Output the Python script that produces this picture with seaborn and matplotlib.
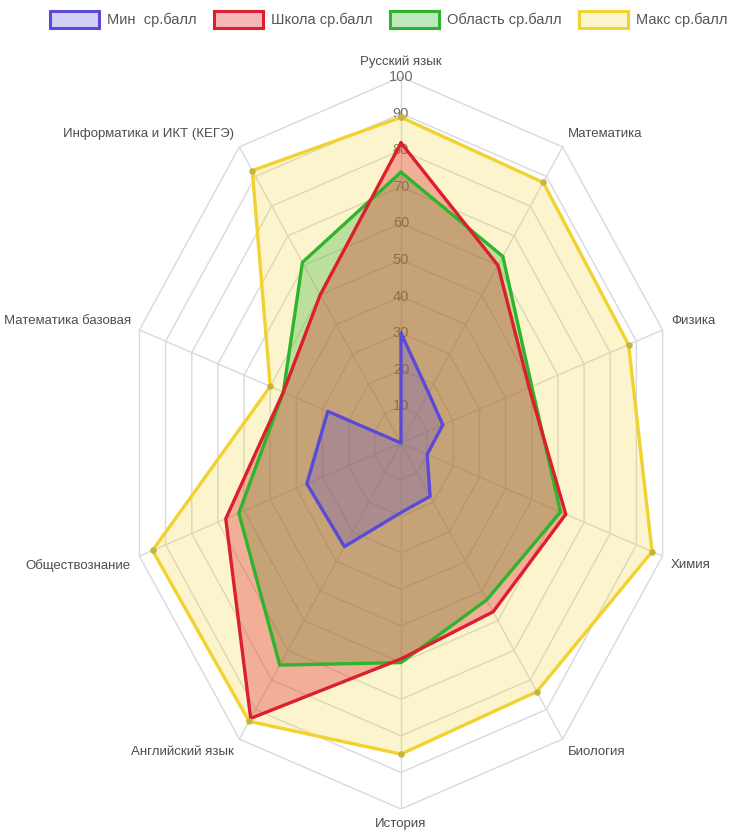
import numpy as np
import pandas as pd
import matplotlib
matplotlib.use("Agg")
import matplotlib.pyplot as plt
from matplotlib.patches import Patch
import seaborn as sns

# subjects clockwise from the top
subjects = ["Русский язык", "Математика", "Физика", "Химия", "Биология",
            "История", "Английский язык", "Обществознание",
            "Математика базовая", "Информатика и ИКТ (КЕГЭ)"]

min_avg = [30, 17, 16, 10, 18, 19, 35, 36, 28, 0]
school_avg = [82, 60, 49, 63, 57, 59, 93, 67, 45, 50]
region_avg = [74, 63, 50, 61, 53, 60, 75, 62, 45, 61]
max_avg = [89, 88, 87, 96, 84, 85, 94, 95, 50, 92]

series_names = ["Мин  ср.балл", "Школа ср.балл", "Область ср.балл", "Макс ср.балл"]
ticks = [10, 20, 30, 40, 50, 60, 70, 80, 90, 100]

line_colors = {"Мин  ср.балл": "#5a4bd6", "Школа ср.балл": "#dd1f2b",
               "Область ср.балл": "#2db52d", "Макс ср.балл": "#f2d22e"}
fill_alpha = {"Мин  ср.балл": 0.25, "Школа ср.балл": 0.32,
              "Область ср.балл": 0.3, "Макс ср.балл": 0.24}

sns.set_style("white")
plt.rcParams["font.family"] = ["Liberation Sans", "DejaVu Sans"]

n = len(subjects)
angles = np.arange(n) * 2 * np.pi / n

# long table, polygon closed by repeating the first point
rows = []
for name, vals in zip(series_names, [min_avg, school_avg, region_avg, max_avg]):
    for i in list(range(n)) + [0]:
        rows.append({"series": name, "subject": subjects[i], "value": vals[i],
                     "x": vals[i] * np.sin(angles[i]), "y": vals[i] * np.cos(angles[i])})
df = pd.DataFrame(rows)

fig = plt.figure(figsize=(7.43, 8.36), dpi=100)
ax = fig.add_axes([126 / 743, 27 / 836, 550 / 743, 732 / 836])

# grid rings and spokes
grid_col = "#d8d9e0"
ring_a = np.append(angles, angles[0])
for r in ticks:
    ax.plot(r * np.sin(ring_a), r * np.cos(ring_a), color=grid_col, lw=1, zorder=1)
for a in angles:
    ax.plot([0, 100 * np.sin(a)], [0, 100 * np.cos(a)], color=grid_col, lw=1, zorder=1)
for r in ticks:
    ax.text(0, r, str(r), ha="center", va="center", fontsize=10.5, color="#6e6e6e", zorder=2)

# draw order: max at the bottom, min on top
draw_order = ["Макс ср.балл", "Область ср.балл", "Школа ср.балл", "Мин  ср.балл"]
for k, name in enumerate(draw_order):
    d = df[df["series"] == name]
    ax.fill(d["x"], d["y"], color=line_colors[name], alpha=fill_alpha[name], lw=0, zorder=3 + k)

sns.lineplot(data=df, x="x", y="y", hue="series", hue_order=draw_order, sort=False,
             estimator=None, palette=line_colors, lw=2.4, legend=False, ax=ax, zorder=8)

mx = df[df["series"] == "Макс ср.балл"]
ax.scatter(mx["x"], mx["y"], s=22, color="#c8b43c", zorder=9, lw=0)

ax.set_xlim(-100, 100)
ax.set_ylim(-100, 100)
ax.axis("off")

# subject labels
pad = 9 * 0.72
for a, lab in zip(angles, subjects):
    s, c = np.sin(a), np.cos(a)
    ha = "left" if s > 0.01 else ("right" if s < -0.01 else "center")
    va = "bottom" if c > 0.01 else ("top" if c < -0.01 else "center")
    ax.annotate(lab, xy=(100 * s, 100 * c), xytext=(pad * s, pad * c),
                textcoords="offset points", ha=ha, va=va, fontsize=9.5,
                color="#4d4d4d", annotation_clip=False)

handles = [Patch(facecolor=matplotlib.colors.to_rgba(line_colors[nm], fill_alpha[nm]),
                 edgecolor=line_colors[nm], lw=2.2) for nm in series_names]
fig.legend(handles, series_names, loc="center", bbox_to_anchor=(0.523, 0.977), ncol=4,
           frameon=False, fontsize=10.5, handlelength=3.4, handleheight=1.4,
           handletextpad=0.55, columnspacing=1.15, labelcolor="#555555")

fig.savefig("out.png", dpi=100)
